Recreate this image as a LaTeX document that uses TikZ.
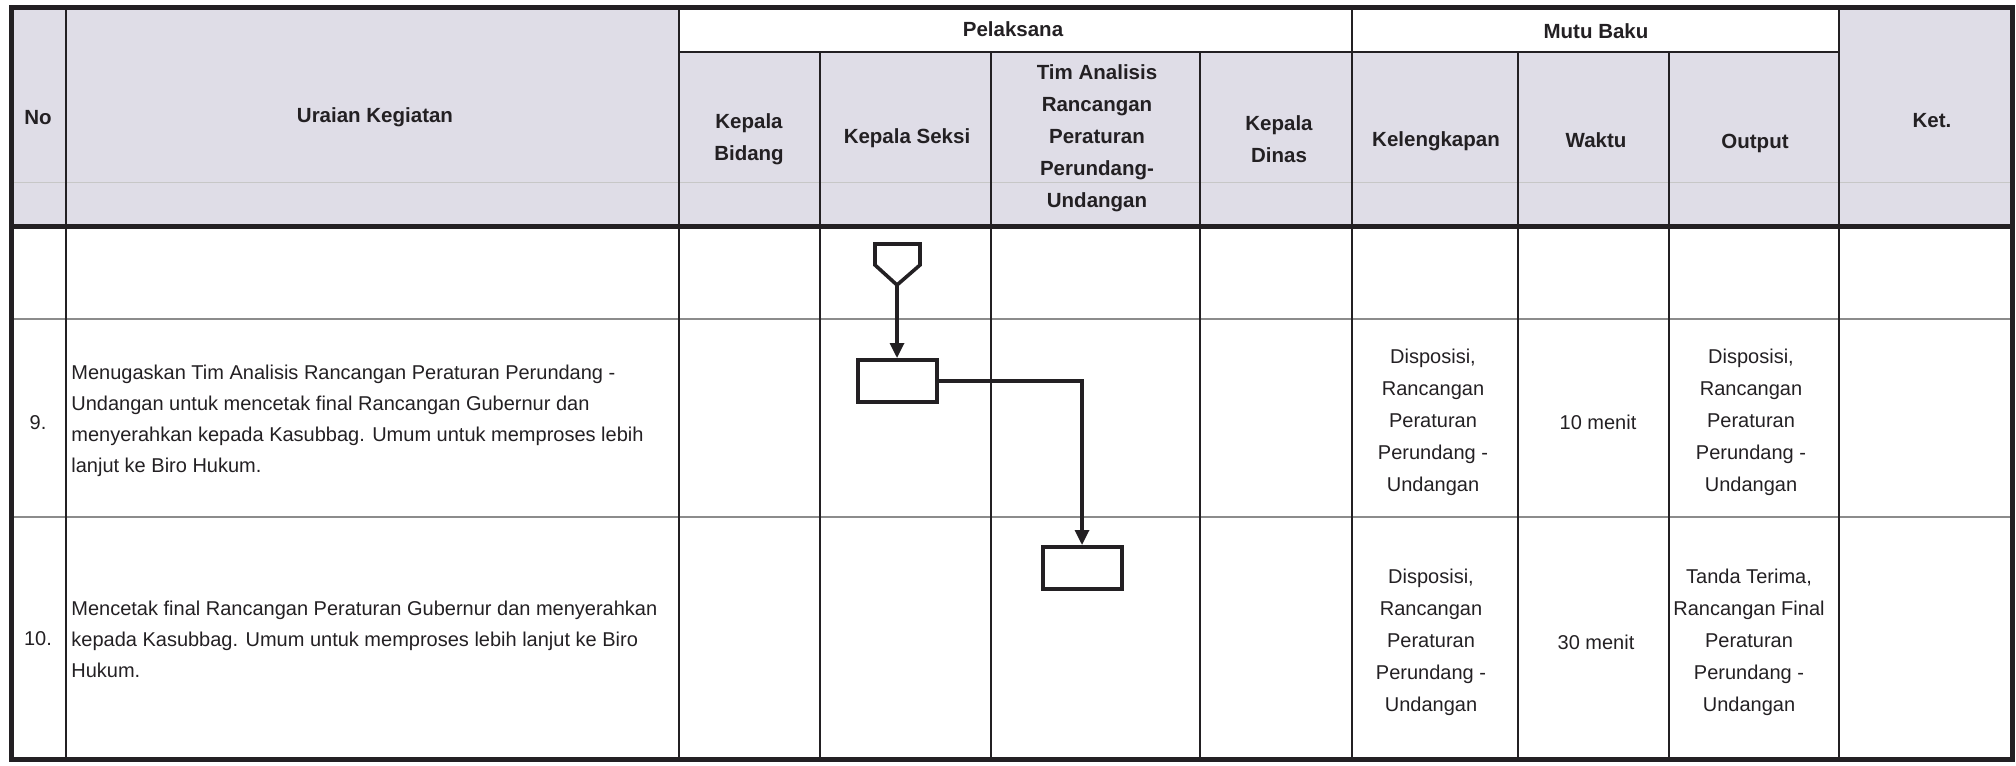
\documentclass[tikz,border=0pt]{standalone}
\usepackage{fontspec}
\setmainfont{Liberation Sans}
\usetikzlibrary{arrows.meta}
\definecolor{hdr}{RGB}{223,221,231}
\definecolor{rowline}{RGB}{140,140,140}
\definecolor{ink}{RGB}{35,32,35}
\begin{document}
\begin{tikzpicture}[x=0.5pt,y=-0.5pt,
  hd/.style={font=\bfseries\fontsize{10.25}{16}\selectfont, align=center, inner sep=0, text=ink},
  bd/.style={font=\fontsize{10}{16}\selectfont, align=center, inner sep=0, text=ink},
  bl/.style={font=\fontsize{10}{15.5}\selectfont, align=left, inner sep=0, anchor=west, text=ink},
  gridln/.style={line width=1.2pt, ink},
  heavyln/.style={line width=2.5pt, ink},
  rowln/.style={line width=0.8pt, rowline},
  proc/.style={draw=ink, line width=2pt, minimum width=39.5pt, minimum height=21pt, inner sep=0},
  arr/.style={line width=1.6pt, ink, -{Triangle[length=7.5pt,width=7pt]}},
]
\useasboundingbox (0,0) rectangle (2016,765);
% header fills
\fill[hdr] (11,8) rectangle (679,226);
\fill[hdr] (679,52) rectangle (1839,226);
\fill[hdr] (1839,8) rectangle (2012,226);
% faint scan line in header
\draw[line width=0.5pt, black!22] (11,182) -- (2012,182);
% row separators
\draw[rowln] (11,319) -- (2012,319);
\draw[rowln] (11,517) -- (2012,517);
% sub header line
\draw[gridln] (679,52) -- (1839,52);
% column lines
\draw[gridln] (66,8) -- (66,759);
\draw[gridln] (679,8) -- (679,759);
\draw[gridln] (820,52) -- (820,759);
\draw[gridln] (991,52) -- (991,759);
\draw[gridln] (1200,52) -- (1200,759);
\draw[gridln] (1352,8) -- (1352,759);
\draw[gridln] (1518,52) -- (1518,759);
\draw[gridln] (1669,52) -- (1669,759);
\draw[gridln] (1839,8) -- (1839,759);
% header bottom and outer frame
\draw[heavyln] (11,226) -- (2012,226);
\draw[heavyln] (11,8) rectangle (2012,759);

% header texts
\node[hd] (hno) at (38,118) {No};
\node[hd] (hur) at (375,117) {Uraian Kegiatan};
\node[hd] (hpel) at (1013,29) {Pelaksana};
\node[hd] (hmb) at (1596,31) {Mutu Baku};
\node[hd] (hkb) at (749,139) {Kepala\\Bidang};
\node[hd] (hks) at (907,138) {Kepala Seksi};
\node[hd] (htim) at (1097,138) {Tim Analisis\\Rancangan\\Peraturan\\Perundang-\\Undangan};
\node[hd] (hkd) at (1279,139) {Kepala\\Dinas};
\node[hd] (hkl) at (1436,141) {Kelengkapan};
\node[hd] (hw) at (1596,140) {Waktu};
\node[hd] (ho) at (1755,143) {Output};
\node[hd] (hket) at (1932,121) {Ket.};

% row 9
\node[bd] (n9) at (38,423) {9.};
\node[bl] (u9) at (71,421) {Menugaskan Tim Analisis Rancangan Peraturan Perundang -\\Undangan untuk mencetak final Rancangan Gubernur dan\\menyerahkan kepada Kasubbag. Umum untuk memproses lebih\\lanjut ke Biro Hukum.};
\node[bd] (k9) at (1433,422) {Disposisi,\\Rancangan\\Peraturan\\Perundang -\\Undangan};
\node[bd] (w9) at (1598,422) {10 menit};
\node[bd] (o9) at (1751,422) {Disposisi,\\Rancangan\\Peraturan\\Perundang -\\Undangan};

% row 10
\node[bd] (n10) at (38,639) {10.};
\node[bl] (u10) at (71,639) {Mencetak final Rancangan Peraturan Gubernur dan menyerahkan\\kepada Kasubbag. Umum untuk memproses lebih lanjut ke Biro\\Hukum.};
\node[bd] (k10) at (1431,642) {Disposisi,\\Rancangan\\Peraturan\\Perundang -\\Undangan};
\node[bd] (w10) at (1596,642) {30 menit};
\node[bd] (o10) at (1749,642) {Tanda Terima,\\Rancangan Final\\Peraturan\\Perundang -\\Undangan};

% flow symbols
\draw[line width=1.8pt, ink, line join=miter] (875,244) -- (920,244) -- (920,265) -- (897,285) -- (875,265) -- cycle;
\coordinate (pt) at (897,285);
\node[proc] (b1) at (897,381) {};
\node[proc] (b2) at (1082,568) {};
\draw[arr] (pt) -- (b1.north);
\draw[arr] (b1.east) -| (b2.north);
\end{tikzpicture}
\end{document}
